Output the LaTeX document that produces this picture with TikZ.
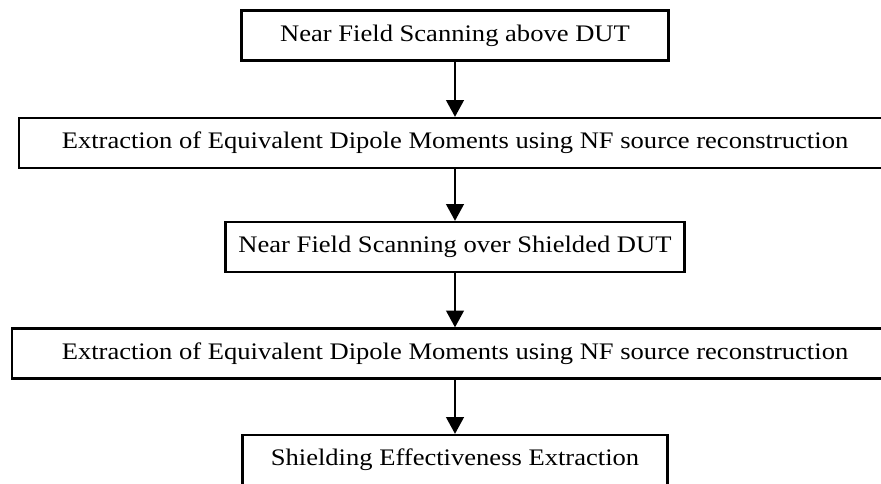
\documentclass[tikz,border=0pt]{standalone}
\usepackage{fontspec}
\setmainfont[FakeStretch=1.12]{Liberation Serif}
\usetikzlibrary{arrows.meta}
\begin{document}
\begin{tikzpicture}[x=0.02cm, y=-0.02cm, font=\fontsize{13.5}{16}\selectfont,
  stepbox/.style={draw, line width=1.3pt, minimum height=1cm, inner sep=0pt},
  flow/.style={line width=1.2pt, -{Triangle[width=10pt,length=9.5pt]}}]
\useasboundingbox (0,0) rectangle (881,483);
\clip (0,0) rectangle (881,483);
\node[stepbox, minimum width=8.54cm]  (scan)     at (455,35.5) {Near Field Scanning above DUT};
\node[stepbox, minimum width=17.44cm] (dipole)   at (455,143)  {Extraction of Equivalent Dipole Moments using NF source reconstruction};
\node[stepbox, minimum width=9.18cm]  (shscan)   at (455,247)  {Near Field Scanning over Shielded DUT};
\node[stepbox, minimum width=17.72cm] (shdipole) at (455,353.5){Extraction of Equivalent Dipole Moments using NF source reconstruction};
\node[stepbox, minimum width=8.5cm]   (se)       at (455,460)  {Shielding Effectiveness Extraction};
\draw[flow] (scan) -- (dipole);
\draw[flow] (dipole) -- (shscan);
\draw[flow] (shscan) -- (shdipole);
\draw[flow] (shdipole) -- (se);
\end{tikzpicture}
\end{document}
